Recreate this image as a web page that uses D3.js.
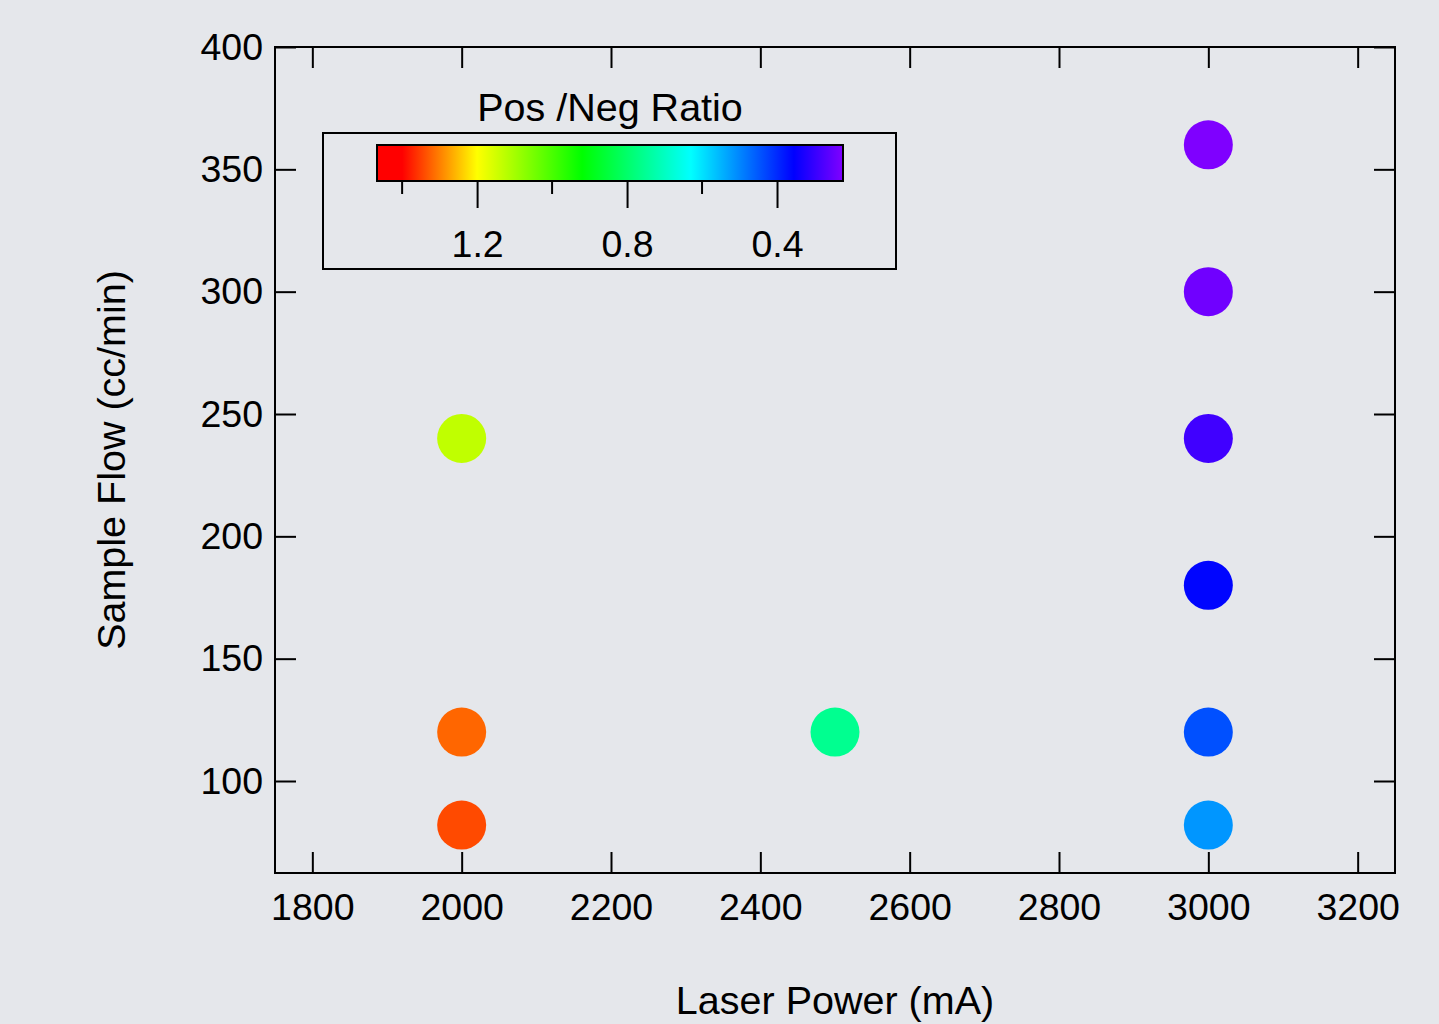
<!DOCTYPE html>
<html>
<head>
<meta charset="utf-8">
<script src="https://cdn.jsdelivr.net/npm/d3@7"></script>
<style>
  html, body { margin: 0; padding: 0; background: #e5e7eb; }
  svg { display: block; }
  text { font-family: "Liberation Sans", Arial, Helvetica, sans-serif; fill: #000; }
</style>
</head>
<body>
<svg id="chart" width="1439" height="1024"></svg>
<script>
// Measurements: laser power (mA), sample flow (cc/min), positive/negative ratio
const laserPower = [2000, 2000, 2000, 2500, 3000, 3000, 3000, 3000, 3000, 3000];
const sampleFlow = [82, 120, 240, 120, 82, 120, 180, 240, 300, 360];
const posNegRatio = [1.342, 1.32, 1.131, 0.756, 0.517, 0.441, 0.36, 0.29, 0.24, 0.225];

// Axis ticks
const xTicks = [1800, 2000, 2200, 2400, 2600, 2800, 3000, 3200];
const yTicks = [100, 150, 200, 250, 300, 350, 400];
const cbarMajorTicks = [1.2, 0.8, 0.4];
const cbarMinorTicks = [1.4, 1.0, 0.6];

// Rainbow colour table (value -> colour)
const stopValues = [1.467, 1.40, 1.20, 0.92, 0.63, 0.355, 0.224];
const stopColors = ["#ff0000", "#ff0000", "#ffff00", "#00ff00", "#00ffff", "#0000ff", "#8000ff"];

const svg = d3.select("#chart");

const plotL = 275, plotR = 1395, plotT = 47, plotB = 873;
const tickLen = 21;

const x = d3.scaleLinear().domain([1750, 3250]).range([plotL, plotR]);
const y = d3.scaleLinear().domain([62.4, 400]).range([plotB, plotT]);
const color = d3.scaleLinear().domain(stopValues).range(stopColors).clamp(true);

// Points
svg.append("g").selectAll("circle")
  .data(laserPower.map((p, i) => ({ p, f: sampleFlow[i], r: posNegRatio[i] })))
  .join("circle")
  .attr("cx", d => x(d.p))
  .attr("cy", d => y(d.f))
  .attr("r", 24.5)
  .attr("fill", d => color(d.r));

// Axes (ticks pointing inward on all four sides)
const tickFont = 37.5;
const titleFont = 39.5;
const gx = svg.append("g").attr("transform", `translate(0,${plotB})`)
  .call(d3.axisBottom(x).tickValues(xTicks).tickSizeInner(-tickLen).tickSizeOuter(0).tickPadding(20).tickFormat(d3.format("d")));
const gxTop = svg.append("g").attr("transform", `translate(0,${plotT})`)
  .call(d3.axisTop(x).tickValues(xTicks).tickSizeInner(-tickLen).tickSizeOuter(0).tickFormat(""));
const gy = svg.append("g").attr("transform", `translate(${plotL},0)`)
  .call(d3.axisLeft(y).tickValues(yTicks).tickSizeInner(-tickLen).tickSizeOuter(0).tickPadding(12).tickFormat(d3.format("d")));
const gyR = svg.append("g").attr("transform", `translate(${plotR},0)`)
  .call(d3.axisRight(y).tickValues(yTicks).tickSizeInner(-tickLen).tickSizeOuter(0).tickFormat(""));

[gx, gxTop, gy, gyR].forEach(g => {
  g.select(".domain").remove();
  g.selectAll(".tick line").attr("stroke", "#000").attr("stroke-width", 2);
  g.selectAll(".tick text").attr("font-size", tickFont).attr("fill", "#000")
    .style("font-family", "'Liberation Sans', Arial, sans-serif");
});

// Plot frame
svg.append("rect")
  .attr("x", plotL).attr("y", plotT)
  .attr("width", plotR - plotL).attr("height", plotB - plotT)
  .attr("fill", "none").attr("stroke", "#000").attr("stroke-width", 2);

// Axis titles
svg.append("text")
  .attr("x", (plotL + plotR) / 2).attr("y", 1014)
  .attr("text-anchor", "middle").attr("font-size", titleFont)
  .text("Laser Power (mA)");
svg.append("text")
  .attr("transform", `translate(125,${(plotT + plotB) / 2}) rotate(-90)`)
  .attr("text-anchor", "middle").attr("font-size", titleFont)
  .text("Sample Flow (cc/min)");

// Colour-scale legend
const cb = d3.scaleLinear().domain([1.467, 0.224]).range([377, 843]);
const cbTop = 145, cbBottom = 181;

svg.append("rect")
  .attr("x", 323).attr("y", 133).attr("width", 573).attr("height", 136)
  .attr("fill", "none").attr("stroke", "#000").attr("stroke-width", 2);

const defs = svg.append("defs");
const grad = defs.append("linearGradient").attr("id", "rainbow")
  .attr("x1", "0%").attr("x2", "100%").attr("y1", "0%").attr("y2", "0%");
const span = cb.range()[1] - cb.range()[0];
stopValues.forEach((v, i) => {
  grad.append("stop")
    .attr("offset", ((cb(v) - cb.range()[0]) / span * 100) + "%")
    .attr("stop-color", stopColors[i]);
});

svg.append("rect")
  .attr("x", cb.range()[0]).attr("y", cbTop)
  .attr("width", span).attr("height", cbBottom - cbTop)
  .attr("fill", "url(#rainbow)").attr("stroke", "#000").attr("stroke-width", 2);

const gcb = svg.append("g").attr("transform", `translate(0,${cbBottom})`)
  .call(d3.axisBottom(cb).tickValues(cbarMajorTicks).tickSizeInner(27).tickSizeOuter(0).tickPadding(22).tickFormat(d3.format(".1f")));
gcb.select(".domain").remove();
gcb.selectAll(".tick line").attr("stroke", "#000").attr("stroke-width", 2);
gcb.selectAll(".tick text").attr("font-size", tickFont).attr("fill", "#000")
  .style("font-family", "'Liberation Sans', Arial, sans-serif");

svg.append("g").selectAll("line")
  .data(cbarMinorTicks)
  .join("line")
  .attr("x1", d => cb(d)).attr("x2", d => cb(d))
  .attr("y1", cbBottom).attr("y2", cbBottom + 13)
  .attr("stroke", "#000").attr("stroke-width", 2);

svg.append("text")
  .attr("x", (cb.range()[0] + cb.range()[1]) / 2).attr("y", 121)
  .attr("text-anchor", "middle").attr("font-size", titleFont)
  .text("Pos /Neg Ratio");
</script>
</body>
</html>
